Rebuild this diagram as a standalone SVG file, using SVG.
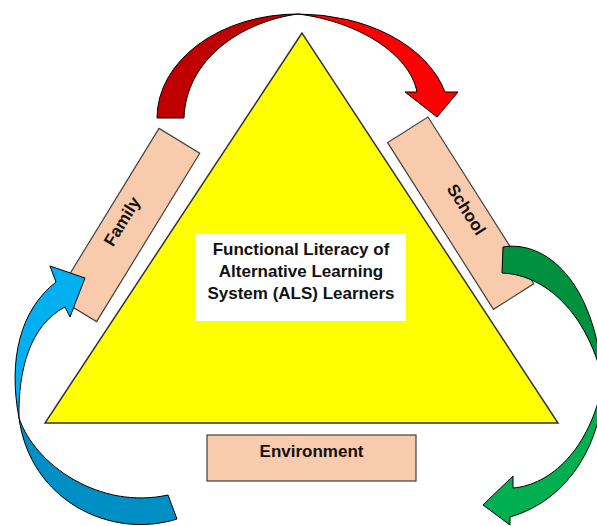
<svg xmlns="http://www.w3.org/2000/svg" width="597" height="526" viewBox="0 0 597 526">
  <style>
    .lbl { font-family: "Liberation Sans", Arial, sans-serif; font-weight: bold; font-size: 17px; fill: #111; text-anchor: middle; }
    .box { fill: #F8CBAD; stroke: #404040; stroke-width: 1.2; }
    .arr { stroke: #000; stroke-width: 1; stroke-linejoin: miter; }
  </style>
  <rect width="597" height="526" fill="#fff"/>

  <!-- central triangle with its title -->
  <g id="core">
    <polygon points="302,33 45,423 558,423" fill="#FFFF00" stroke="#333" stroke-width="1.5"/>
    <rect x="195" y="234" width="211" height="87" fill="#fff"/>
    <text class="lbl" x="301" y="255">Functional Literacy of</text>
    <text class="lbl" x="301" y="277">Alternative Learning</text>
    <text class="lbl" x="301" y="299">System (ALS) Learners</text>
  </g>

  <g id="family" transform="translate(127.8,225) rotate(-58.5)">
    <rect class="box" x="-98.75" y="-23.9" width="197.5" height="47.8"/>
    <text class="lbl" x="0" y="-1">Family</text>
  </g>

  <g id="school" transform="translate(460.7,213.2) rotate(57.6)">
    <rect class="box" x="-98.75" y="-23.9" width="197.5" height="47.8"/>
    <text class="lbl" x="0" y="-1">School</text>
  </g>

  <g id="environment">
    <rect class="box" x="207" y="435" width="209" height="46"/>
    <text class="lbl" x="311.5" y="457">Environment</text>
  </g>

  <!-- curved ribbon arrows: darker back half, brighter front half with head -->
  <g id="connectors" class="arr">
    <!-- Family to School -->
    <path fill="#C00000" d="M157,118 A141,104 0 0 1 298,14 C240,22 186,60 184,118 Z"/>
    <path fill="#FF0000" d="M298,14 A152,104 0 0 1 445,92 L458,92 L437,117 L405,92 L417,92 C410,55 360,22 298,14 Z"/>
    <!-- School to Environment -->
    <path fill="#00913F" d="M502,273 L503,247 C545,240 595,280 603,382 C590,320 550,275 502,273 Z"/>
    <path fill="#00B050" d="M603,382 C603,440 570,500 510,517 L510,525 L483,505 L513,476 L513,488 C550,485 590,450 603,382 Z"/>
    <!-- Environment to Family -->
    <path fill="#008FC4" d="M168,495 L177,519 C110,540 30,500 19,418 C35,465 100,510 168,495 Z"/>
    <path fill="#00B0F0" d="M19,418 C8,360 20,310 56,282 L50,266 L85,278 L70,317 L65,307 C30,325 18,370 19,418 Z"/>
  </g>
</svg>
